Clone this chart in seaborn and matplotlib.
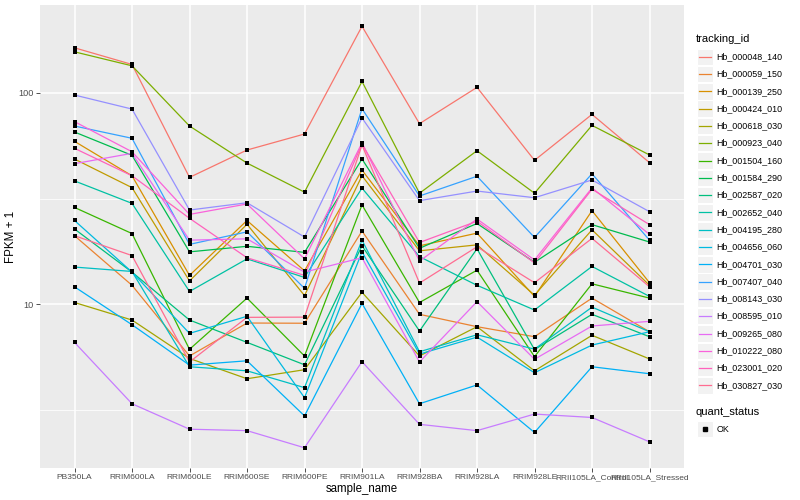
import numpy as np
import pandas as pd
import seaborn as sns
import matplotlib.pyplot as plt
from matplotlib.patches import Rectangle
from matplotlib.lines import Line2D
from matplotlib.ticker import NullFormatter

plt.rcParams['font.family'] = ['Liberation Sans', 'DejaVu Sans']

# Образцы (ось X)
samples = ['PB350LA', 'RRIM600LA', 'RRIM600LE', 'RRIM600SE', 'RRIM600PE', 'RRIM901LA',
           'RRIM928BA', 'RRIM928LA', 'RRIM928LE', 'RRII105LA_Control', 'RRII105LA_Stressed']

tracking_ids = ['Hb_000048_140', 'Hb_000059_150', 'Hb_000139_250', 'Hb_000424_010', 'Hb_000618_030',
                'Hb_000923_040', 'Hb_001504_160', 'Hb_001584_290', 'Hb_002587_020', 'Hb_002652_040',
                'Hb_004195_280', 'Hb_004656_060', 'Hb_004701_030', 'Hb_007407_040', 'Hb_008143_030',
                'Hb_008595_010', 'Hb_009265_080', 'Hb_010222_080', 'Hb_023001_020', 'Hb_030827_030']

# стандартная палитра ggplot для 20 уровней
colors = ['#F8766D', '#EA8331', '#D89000', '#C09B00', '#A3A500', '#7CAE00', '#39B600', '#00BB4E',
          '#00BF7D', '#00C1A3', '#00BFC4', '#00BAE0', '#00B0F6', '#35A2FF', '#9590FF', '#C77CFF',
          '#E76BF3', '#FA62DB', '#FF62BC', '#FF6C91']

# FPKM + 1 по образцам
hb_000048_140 = [163, 136, 39.8, 53.6, 63.8, 206, 71.4, 106, 47.9, 79.0, 46.7]
hb_000059_150 = [21.1, 12.3, 5.70, 8.16, 8.14, 22.2, 8.97, 7.84, 7.03, 10.7, 7.42]
hb_000139_250 = [58.9, 40.5, 13.7, 24.9, 14.4, 43.1, 18.9, 21.7, 10.9, 27.7, 12.65]
hb_000424_010 = [48.6, 35.6, 12.9, 23.9, 11.0, 40.5, 17.9, 19.1, 11.05, 22.5, 12.3]
hb_000618_030 = [10.2, 8.43, 5.55, 4.45, 4.91, 11.4, 5.70, 7.84, 4.85, 7.14, 5.52]
hb_000923_040 = [156, 134, 69.6, 46.5, 33.9, 113, 33.5, 53.2, 33.5, 70.1, 50.8]
hb_001504_160 = [28.7, 21.6, 6.13, 10.7, 5.70, 29.5, 10.2, 14.5, 5.66, 12.5, 10.7]
hb_001584_290 = [65.2, 50.6, 17.7, 18.8, 17.6, 48.6, 18.4, 24.1, 15.8, 23.8, 19.7]
hb_002587_020 = [22.7, 14.2, 8.43, 6.61, 5.18, 18.9, 7.48, 18.3, 6.11, 8.97, 7.03]
hb_002652_040 = [38.3, 30.0, 11.5, 16.4, 13.4, 35.4, 16.8, 12.3, 9.4, 15.1, 10.9]
hb_004195_280 = [15.0, 14.3, 5.07, 4.85, 4.04, 20.1, 5.97, 7.18, 6.14, 9.7, 7.42]
hb_004656_060 = [24.9, 14.2, 7.29, 8.78, 3.62, 17.7, 5.82, 7.0, 4.75, 6.42, 7.42]
hb_004701_030 = [12.1, 8.01, 5.16, 5.41, 2.97, 10.1, 3.39, 4.16, 2.48, 5.07, 4.70]
hb_007407_040 = [69.6, 60.9, 19.2, 22.0, 11.9, 84.0, 32.5, 40.3, 20.7, 41.4, 20.1]
hb_008143_030 = [97.5, 83.7, 27.9, 30.2, 20.8, 76.0, 30.9, 34.3, 31.9, 38.7, 27.4]
hb_008595_010 = [6.61, 3.39, 2.57, 2.53, 2.10, 5.36, 2.71, 2.53, 3.03, 2.92, 2.24]
hb_009265_080 = [46.2, 51.7, 20.1, 20.4, 14.2, 16.6, 5.34, 10.3, 5.50, 7.9, 8.31]
hb_010222_080 = [73.0, 52.6, 26.6, 29.8, 16.4, 58.0, 16.0, 25.3, 16.2, 35.5, 21.4]
hb_023001_020 = [54.6, 40.5, 25.5, 16.6, 13.7, 57.2, 19.6, 24.7, 15.7, 35.0, 23.8]
hb_030827_030 = [21.1, 17.0, 5.34, 8.68, 8.70, 56.6, 12.6, 18.7, 12.65, 20.5, 12.1]

series = [hb_000048_140, hb_000059_150, hb_000139_250, hb_000424_010, hb_000618_030,
          hb_000923_040, hb_001504_160, hb_001584_290, hb_002587_020, hb_002652_040,
          hb_004195_280, hb_004656_060, hb_004701_030, hb_007407_040, hb_008143_030,
          hb_008595_010, hb_009265_080, hb_010222_080, hb_023001_020, hb_030827_030]

# Длинная таблица для seaborn
rows = []
for tid, vals in zip(tracking_ids, series):
    for s, v in zip(samples, vals):
        rows.append({'tracking_id': tid, 'sample_name': s, 'fpkm1': v, 'quant_status': 'OK'})
df = pd.DataFrame(rows)

fig = plt.figure(figsize=(8, 5), dpi=100)
ax = fig.add_axes([0.05, 0.064, 0.805, 0.926])
ax.set_facecolor('#EBEBEB')

sns.lineplot(data=df, x='sample_name', y='fpkm1', hue='tracking_id', hue_order=tracking_ids,
             palette=colors, sort=False, estimator=None, linewidth=0.9, legend=False, ax=ax)
sns.scatterplot(data=df, x='sample_name', y='fpkm1', color='black', marker='s', s=9,
                linewidth=0, legend=False, ax=ax, zorder=3)

ax.set_yscale('log')
ax.set_ylim(1.685, 259.7)
ax.set_xlim(-0.6, 10.6)
ax.set_yticks([10, 100])
ax.set_yticklabels(['10', '100'])
ax.set_yticks([10 ** 0.5, 10 ** 1.5], minor=True)
ax.yaxis.set_minor_formatter(NullFormatter())
ax.tick_params(axis='y', which='minor', length=0)
ax.tick_params(axis='both', which='major', length=3, width=0.6, color='#333333',
               labelcolor='#4D4D4D', pad=1.5)
ax.tick_params(axis='x', labelsize=6.0)
ax.tick_params(axis='y', labelsize=6.6)
ax.grid(which='major', color='white', linewidth=1.1)
ax.grid(which='minor', axis='y', color='white', linewidth=0.55)
ax.set_axisbelow(True)
for sp in ax.spines.values():
    sp.set_visible(False)
ax.set_xlabel('sample_name', fontsize=8.3, labelpad=1)
ax.set_ylabel('FPKM + 1', fontsize=8.3)
ax.yaxis.set_label_coords(-0.036, 0.5)

# Легенда в стиле ggplot
W, H = 800.0, 500.0
def fx(px):
    return px / W
def fy(py):
    return 1 - py / H

fig.text(fx(696), fy(39), 'tracking_id', fontsize=8, va='center', ha='left')
for i, (tid, c) in enumerate(zip(tracking_ids, colors)):
    yc = 56.7 + 17.3 * i
    fig.add_artist(Rectangle((fx(697), fy(yc + 8.2)), 16 / W, 16.4 / H, transform=fig.transFigure,
                             facecolor='#F2F2F2', edgecolor='white', linewidth=0.8))
    fig.add_artist(Line2D([fx(699), fx(711)], [fy(yc), fy(yc)], transform=fig.transFigure,
                          color=c, linewidth=0.9))
    fig.text(fx(716.5), fy(yc), tid, fontsize=6.4, va='center', ha='left')

fig.text(fx(696), fy(412), 'quant_status', fontsize=8, va='center', ha='left')
fig.add_artist(Rectangle((fx(697), fy(429 + 8.2)), 16 / W, 16.4 / H, transform=fig.transFigure,
                         facecolor='#F2F2F2', edgecolor='white', linewidth=0.8))
fig.add_artist(Line2D([fx(705)], [fy(429)], transform=fig.transFigure, color='black',
                      marker='s', markersize=2.6, linewidth=0))
fig.text(fx(716.5), fy(429), 'OK', fontsize=6.4, va='center', ha='left')

fig.savefig('out.png', dpi=100)
